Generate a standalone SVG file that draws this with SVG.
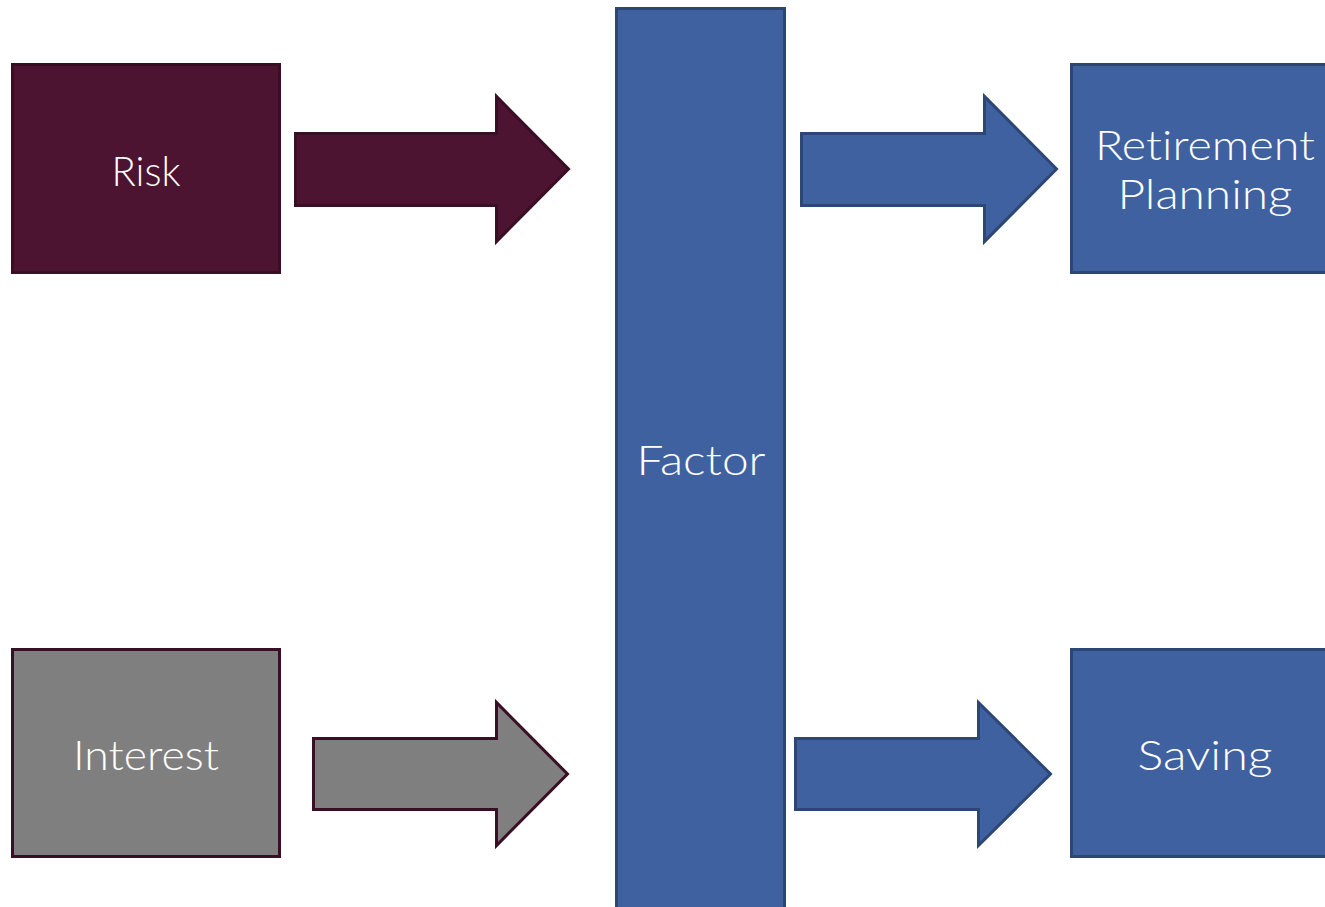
<svg xmlns="http://www.w3.org/2000/svg" width="1325" height="907" viewBox="0 0 1325 907">
  <style>
    .maroon { fill: #4c1430; stroke: #3a0e24; stroke-width: 3; }
    .grey { fill: #7f7f7f; stroke: #3a0e24; stroke-width: 3; }
    .blue { fill: #4061a0; stroke: #2c4675; stroke-width: 3; }
    .label { font-family: Lato, "Liberation Sans", Arial, sans-serif; font-weight: 300; font-size: 42px; fill: #ffffff; text-anchor: middle; font-variant-ligatures: none; }
  </style>
  <rect width="1325" height="907" fill="#ffffff"/>

  <!-- factor column -->
  <g id="factor">
    <rect class="blue" x="616.5" y="8.5" width="168" height="910"/>
    <text class="label" x="701" y="475" textLength="129" lengthAdjust="spacingAndGlyphs">Factor</text>
  </g>

  <!-- inputs -->
  <g id="risk">
    <rect class="maroon" x="12.5" y="64.5" width="267" height="208"/>
    <text class="label" x="146" y="186" textLength="69" lengthAdjust="spacingAndGlyphs">Risk</text>
  </g>
  <g id="interest">
    <rect class="grey" x="12.5" y="649.5" width="267" height="207"/>
    <text class="label" x="146" y="770" textLength="146" lengthAdjust="spacingAndGlyphs">Interest</text>
  </g>

  <!-- outputs -->
  <g id="retirement-planning">
    <rect class="blue" x="1071.5" y="64.5" width="270" height="208"/>
    <text class="label" x="1205" y="160" textLength="220" lengthAdjust="spacingAndGlyphs">Retirement</text>
    <text class="label" x="1205" y="209" textLength="175" lengthAdjust="spacingAndGlyphs">Planning</text>
  </g>
  <g id="saving">
    <rect class="blue" x="1071.5" y="649.5" width="270" height="207"/>
    <text class="label" x="1205" y="770" textLength="135" lengthAdjust="spacingAndGlyphs">Saving</text>
  </g>

  <!-- block arrows -->
  <g id="connectors">
    <path class="maroon" d="M295.5 133.5 H496.5 V96.5 L568.5 169 L496.5 241.5 V205.5 H295.5 Z"/>
    <path class="grey" d="M313.5 738.5 H496.5 V702.5 L567.5 774 L496.5 845.5 V809.5 H313.5 Z"/>
    <path class="blue" d="M801.5 133.5 H984.5 V96.5 L1056.5 169 L984.5 241.5 V205.5 H801.5 Z"/>
    <path class="blue" d="M795.5 738.5 H978.5 V702.5 L1050.5 774 L978.5 845.5 V809.5 H795.5 Z"/>
  </g>
</svg>
